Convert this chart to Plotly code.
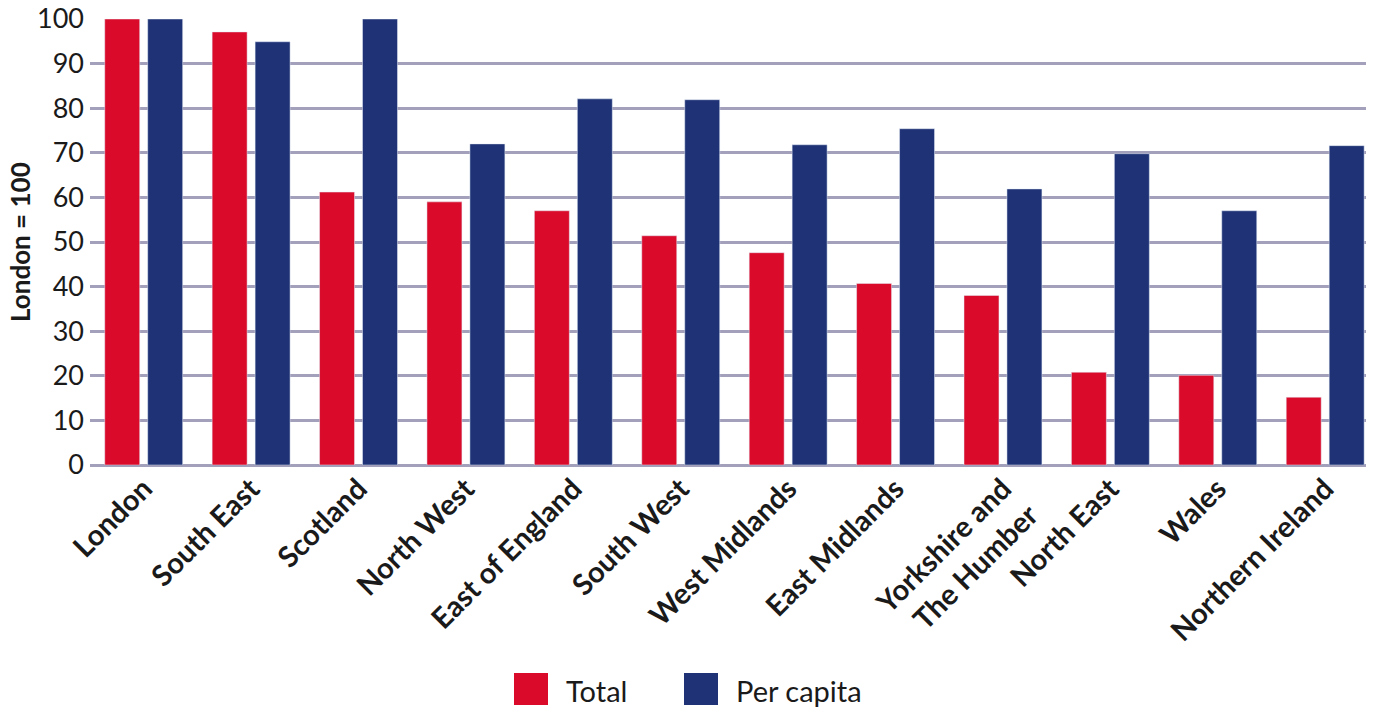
import plotly.graph_objects as go

regions = ["London", "South East", "Scotland", "North West", "East of England",
           "South West", "West Midlands", "East Midlands", "Yorkshire and<br>The Humber",
           "North East", "Wales", "Northern Ireland"]
total = [100, 97.1, 61.2, 59.0, 57.0, 51.4, 47.6, 40.7, 38.0, 20.8, 20.1, 15.2]
per_capita = [100, 94.9, 100, 72.0, 82.1, 81.9, 71.8, 75.4, 61.9, 69.8, 57.0, 71.6]

RED = "#d90a2a"
BLUE = "#1e3275"
GRID = "#a3a0bb"
TXT = "#1a1a1a"
FONT = "Lato"

fig = go.Figure()
fig.add_trace(go.Bar(x=regions, y=total, name="Total", marker_color=RED, showlegend=False))
fig.add_trace(go.Bar(x=regions, y=per_capita, name="Per capita", marker_color=BLUE, showlegend=False))

W, H = 1375, 711
L, R, T, B = 90, 9, 19, 246
pw, ph = W - L - R, H - T - B


def px(x, y):
    # pixel position -> paper coordinates
    return (x - L) / pw, (H - B - y) / ph


# hand-made legend (big square swatches)
for (x0, label, col) in [(514, "Total", RED), (684, "Per capita", BLUE)]:
    a = px(x0, 705)
    b = px(x0 + 34, 673)
    fig.add_shape(type="rect", xref="paper", yref="paper", x0=a[0], y0=a[1], x1=b[0], y1=b[1],
                  fillcolor=col, line_width=0)
    t = px(x0 + 50, 690)
    fig.add_annotation(xref="paper", yref="paper", x=t[0], y=t[1], text=label, showarrow=False,
                       xanchor="left", yanchor="middle", font=dict(family=FONT, size=29, color=TXT))

# y axis title
t = px(20, 242)
fig.add_annotation(xref="paper", yref="paper", x=t[0], y=t[1], text="<b>London = 100</b>",
                   showarrow=False, textangle=-90, xanchor="center", yanchor="middle",
                   font=dict(family=FONT, size=26, color=TXT))

fig.update_layout(
    width=W, height=H,
    margin=dict(l=L, r=R, t=T, b=B),
    plot_bgcolor="white", paper_bgcolor="white",
    barmode="group", bargap=0.2, bargroupgap=0.186,
    font=dict(family=FONT, color=TXT),
)
fig.update_xaxes(
    range=[-0.5, 11.38], tickangle=-45, automargin=False,
    tickfont=dict(family=FONT, size=29, color=TXT, weight="bold"),
    showgrid=False, showline=False, ticks="",
)
fig.update_yaxes(
    range=[0, 100], dtick=10, showgrid=True, gridcolor=GRID, gridwidth=2.5,
    zeroline=True, zerolinecolor=GRID, zerolinewidth=2.5, automargin=False,
    tickfont=dict(family=FONT, size=27, color=TXT),
    ticks="", ticklabelstandoff=5,
)

# page body has a default 8px margin; drop it so the figure fills the window
fig.write_html("out.html", config={"displayModeBar": False},
               post_script="document.body.style.margin='0';")
